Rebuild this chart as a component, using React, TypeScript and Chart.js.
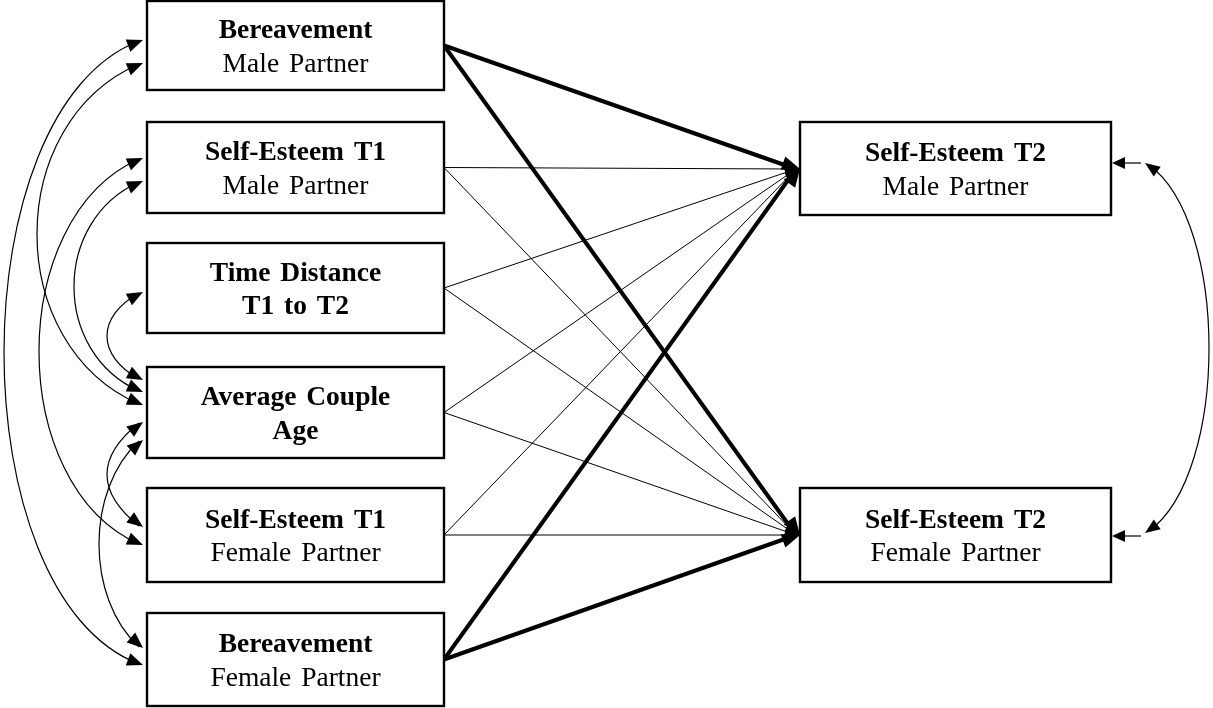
import React, { useEffect, useRef } from "react";
import { Chart, registerables } from "chart.js";

Chart.register(...registerables);

const W = 1213;
const H = 708;

// ---- content ----
const predictorTitles = ["Bereavement", "Self-Esteem T1", "Time Distance", "Average Couple", "Self-Esteem T1", "Bereavement"];
const predictorSubtitles = ["Male Partner", "Male Partner", "T1 to T2", "Age", "Female Partner", "Female Partner"];
const predictorSubBold = [false, false, true, true, false, false];
const outcomeTitles = ["Self-Esteem T2", "Self-Esteem T2"];
const outcomeSubtitles = ["Male Partner", "Female Partner"];

// regression paths: predictor index -> outcome index
const pathFrom = [0, 0, 1, 1, 2, 2, 3, 3, 4, 4, 5, 5];
const pathTo = [0, 1, 0, 1, 0, 1, 0, 1, 0, 1, 0, 1];
const pathStrong = [true, true, false, false, false, false, false, false, false, false, true, true];

// covariances between predictors (index pairs)
const covA = [0, 0, 1, 1, 2, 3, 3];
const covB = [5, 3, 4, 3, 3, 4, 5];

// ---- layout (diagram units = pixels of the 1213x708 frame) ----
const predictorLeft = 147;
const predictorRight = 444;
const predictorTop = [1, 122, 243, 367, 488, 613];
const predictorBottom = [90, 213, 333, 458, 582, 706];
const outcomeLeft = 800;
const outcomeRight = 1111;
const outcomeTop = [122, 488];
const outcomeBottom = [215, 582];
const outcomeAnchorY = [169, 535];

// covariance curve geometry: end y at A, end y at B, leftmost x, vertical control offset
const covYA = [40, 63, 158, 181, 292, 422, 440];
const covYB = [665, 405, 545, 392, 380, 527, 648];
const covLeftX = [5, 38, 40, 75, 108, 108, 100];
const covCtrl = [70, 60, 60, 40, 25, 35, 50];
const covTipX = 143;

// residual terms of outcomes
const residualX = 1143;
const residualY = [163, 536];
const residualRightX = 1208;
const residualCtrl = 60;

function buildPathDatasets() {
  return pathFrom.map((f, i) => {
    const y0 = (predictorTop[f] + predictorBottom[f]) / 2;
    const y1 = outcomeAnchorY[pathTo[i]];
    return {
      type: "line" as const,
      data: [
        { x: predictorRight, y: y0 },
        { x: outcomeLeft - 4, y: y1 },
      ],
      borderColor: "#000",
      borderWidth: pathStrong[i] ? 4 : 1,
      pointRadius: 0,
      showLine: true,
      fill: false,
      tension: 0,
    };
  });
}

function arrowHead(ctx: CanvasRenderingContext2D, tx: number, ty: number, fx: number, fy: number, len: number, wid: number) {
  const a = Math.atan2(ty - fy, tx - fx);
  const bx = tx - len * Math.cos(a);
  const by = ty - len * Math.sin(a);
  const nx = -Math.sin(a) * (wid / 2);
  const ny = Math.cos(a) * (wid / 2);
  ctx.beginPath();
  ctx.moveTo(tx, ty);
  ctx.lineTo(bx + nx, by + ny);
  ctx.lineTo(bx - nx, by - ny);
  ctx.closePath();
  ctx.fill();
}

const diagramPlugin = {
  id: "diagram",
  afterDatasetsDraw(chart: any) {
    const ctx: CanvasRenderingContext2D = chart.ctx;
    const xs = chart.scales.x;
    const ys = chart.scales.y;
    const px = (v: number) => xs.getPixelForValue(v);
    const py = (v: number) => ys.getPixelForValue(v);
    ctx.save();
    ctx.fillStyle = "#000";
    ctx.strokeStyle = "#000";

    // arrowheads of regression paths
    pathFrom.forEach((f, i) => {
      const y0 = (predictorTop[f] + predictorBottom[f]) / 2;
      const y1 = outcomeAnchorY[pathTo[i]];
      const strong = pathStrong[i];
      arrowHead(ctx, px(outcomeLeft), py(y1), px(predictorRight), py(y0), strong ? 18 : 15, strong ? 14 : 11);
    });

    // covariance curves
    ctx.lineWidth = 1.2;
    covA.forEach((_, i) => {
      const y1 = covYA[i];
      const y2 = covYB[i];
      const c = (covLeftX[i] - 0.25 * covTipX) / 0.75;
      const d = covCtrl[i];
      ctx.beginPath();
      ctx.moveTo(px(covTipX - 4), py(y1 + 1));
      ctx.bezierCurveTo(px(c), py(y1 + d), px(c), py(y2 - d), px(covTipX - 4), py(y2 - 1));
      ctx.stroke();
      arrowHead(ctx, px(covTipX), py(y1), px(c), py(y1 + d), 16, 13);
      arrowHead(ctx, px(covTipX), py(y2), px(c), py(y2 - d), 16, 13);
    });

    // residual arrows and their covariance
    residualY.forEach((y) => {
      ctx.beginPath();
      ctx.moveTo(px(residualX - 2), py(y));
      ctx.lineTo(px(outcomeRight + 4), py(y));
      ctx.stroke();
      arrowHead(ctx, px(outcomeRight + 1), py(y), px(residualX), py(y), 13, 12);
    });
    {
      const tip = residualX + 2;
      const y1 = residualY[0];
      const y2 = residualY[1] - 3;
      const c = (residualRightX - 0.25 * tip) / 0.75;
      const d = residualCtrl;
      ctx.beginPath();
      ctx.moveTo(px(tip + 4), py(y1 + 2));
      ctx.bezierCurveTo(px(c), py(y1 + d), px(c), py(y2 - d), px(tip + 4), py(y2 - 2));
      ctx.stroke();
      arrowHead(ctx, px(tip), py(y1), px(c), py(y1 + d), 15, 12);
      arrowHead(ctx, px(tip), py(y2), px(c), py(y2 - d), 15, 12);
    }

    // boxes
    const drawBox = (l: number, t: number, r: number, b: number, title: string, sub: string, subBold: boolean) => {
      const x0 = px(l), x1 = px(r), y0 = py(t), y1 = py(b);
      ctx.fillStyle = "#fff";
      ctx.fillRect(x0, y0, x1 - x0, y1 - y0);
      ctx.lineWidth = 2.4;
      ctx.strokeRect(x0, y0, x1 - x0, y1 - y0);
      ctx.fillStyle = "#000";
      const cx = (x0 + x1) / 2;
      const cy = (y0 + y1) / 2;
      ctx.textAlign = "center";
      ctx.textBaseline = "alphabetic";
      (ctx as any).wordSpacing = "3px";
      ctx.font = "bold 27.5px 'Liberation Serif', 'Times New Roman', serif";
      ctx.fillText(title, cx, cy - 7.5);
      ctx.font = (subBold ? "bold " : "") + "27.5px 'Liberation Serif', 'Times New Roman', serif";
      ctx.fillText(sub, cx, cy + 26);
      (ctx as any).wordSpacing = "0px";
    };
    predictorTitles.forEach((t, i) => {
      drawBox(predictorLeft, predictorTop[i], predictorRight, predictorBottom[i], t, predictorSubtitles[i], predictorSubBold[i]);
    });
    outcomeTitles.forEach((t, i) => {
      drawBox(outcomeLeft, outcomeTop[i], outcomeRight, outcomeBottom[i], t, outcomeSubtitles[i], false);
    });
    ctx.restore();
  },
};

export default function App() {
  const ref = useRef<HTMLCanvasElement | null>(null);
  useEffect(() => {
    if (!ref.current) return;
    const chart = new Chart(ref.current, {
      type: "scatter",
      data: { datasets: buildPathDatasets() as any },
      options: {
        animation: false,
        responsive: false,
        maintainAspectRatio: false,
        devicePixelRatio: 1,
        layout: { padding: 0 },
        plugins: { legend: { display: false }, tooltip: { enabled: false }, title: { display: false } },
        events: [],
        scales: {
          x: { type: "linear", min: 0, max: W, display: false },
          y: { type: "linear", min: 0, max: H, reverse: true, display: false },
        },
      },
      plugins: [diagramPlugin],
    });
    return () => chart.destroy();
  }, []);
  return (
    <div style={{ position: "fixed", left: 0, top: 0, width: W, height: H, background: "#fff" }}>
      <canvas ref={ref} width={W} height={H} style={{ width: W, height: H, display: "block" }} />
    </div>
  );
}
